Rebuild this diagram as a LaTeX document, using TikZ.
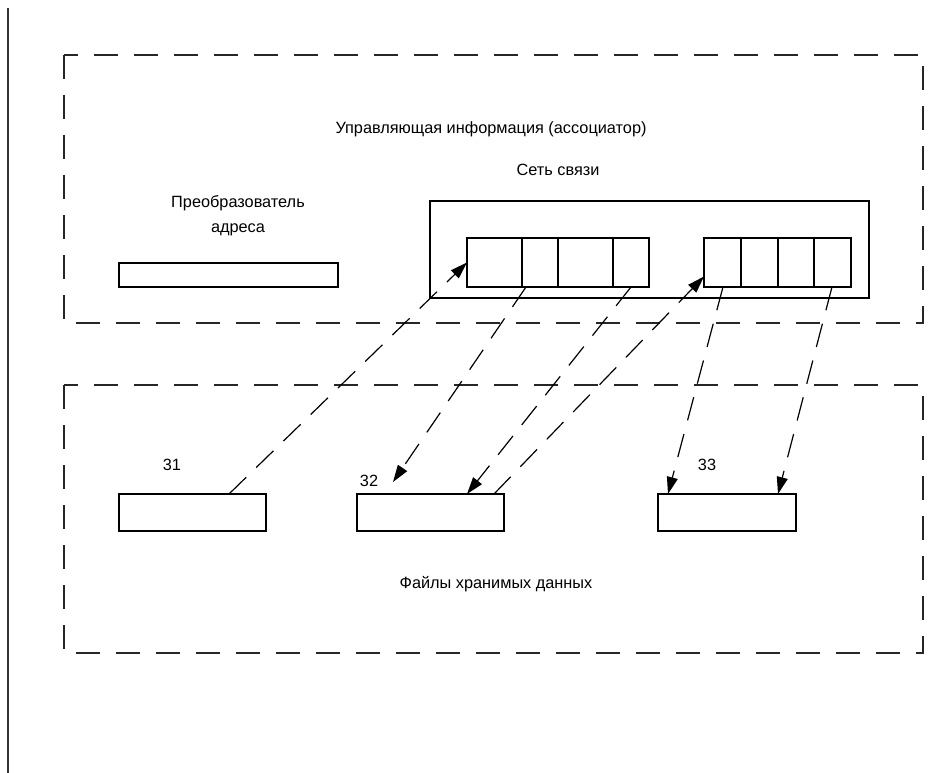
\documentclass[tikz,border=0pt]{standalone}
\usepackage{fontspec}
\setmainfont{Liberation Sans}
\usetikzlibrary{arrows.meta,calc}
\begin{document}
\begin{tikzpicture}[x=1pt,y=-1pt,
  solidbox/.style={draw=black,line width=1.3pt,fill=white,inner sep=0pt,outer sep=0pt,anchor=north west},
  frame/.style={draw=black!85,line width=1.3pt,dash pattern=on 24pt off 16pt},
  link/.style={draw=black,line width=1.2pt,dash pattern=on 24pt off 14pt,-{Triangle[length=17pt,width=11pt]}},
  lbl/.style={font=\fontsize{16.3}{19}\selectfont,inner sep=0pt,align=center}]
\useasboundingbox (0,0) rectangle (951,773);
\draw[line width=2pt,black!80] (8,8) -- (8,773);
% frames
\draw[frame] (64,55) rectangle (923,323);
\draw[frame] (64,385) rectangle (923,653);
% texts
\node[lbl] (ctrl) at (491,129) {Управляющая информация (ассоциатор)};
\node[lbl] (netlbl) at (558,170) {Сеть связи};
\node[lbl] (addrlbl) at (238,216) {Преобразователь\\[6pt]адреса};
\node[lbl] (files) at (496,584) {Файлы хранимых данных};
\node[lbl] (l31) at (172,465) {31};
\node[lbl] (l32) at (369,481) {32};
\node[lbl] (l33) at (707,465) {33};
% boxes
\node[solidbox,minimum width=219pt,minimum height=24pt] (addr) at (119,263) {};
\node[solidbox,minimum width=439pt,minimum height=97pt] (net) at (430,201) {};
\node[solidbox,minimum width=182pt,minimum height=49pt] (recL) at (467,238) {};
\node[solidbox,minimum width=147pt,minimum height=49pt] (recR) at (704,238) {};
\foreach \d in {55,91,146}{\draw[line width=1.3pt] ([xshift=\d pt]recL.north west) -- ([xshift=\d pt]recL.south west);}
\foreach \d in {37,74,110}{\draw[line width=1.3pt] ([xshift=\d pt]recR.north west) -- ([xshift=\d pt]recR.south west);}
\node[solidbox,minimum width=147pt,minimum height=37pt] (f31) at (119,494) {};
\node[solidbox,minimum width=147pt,minimum height=37pt] (f32) at (357,494) {};
\node[solidbox,minimum width=138pt,minimum height=37pt] (f33) at (658,494) {};
\coordinate (c32) at (393,482);
% connectors
\draw[link] ([xshift=110pt]f31.north west) -- (recL.west);
\draw[link] ([xshift=59pt]recL.south west) -- (c32);
\draw[link] ([xshift=164pt]recL.south west) -- ([xshift=110pt]f32.north west);
\draw[link] ([xshift=137pt]f32.north west) -- ([yshift=-14pt]recR.west);
\draw[link] ([xshift=19pt]recR.south west) -- ([xshift=10pt]f33.north west);
\draw[link] ([xshift=128pt]recR.south west) -- ([xshift=120pt]f33.north west);
\end{tikzpicture}
\end{document}
